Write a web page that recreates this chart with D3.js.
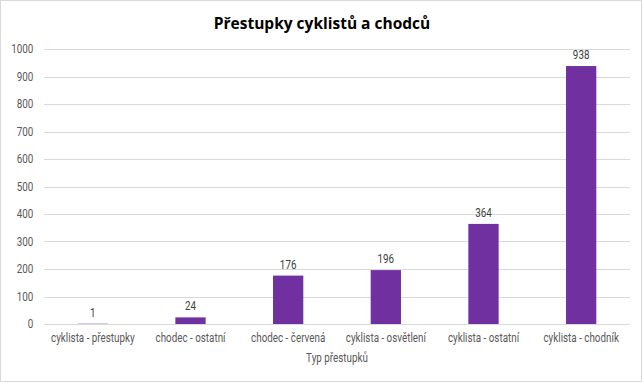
<!DOCTYPE html>
<html>
<head>
<meta charset="utf-8">
<script src="https://cdn.jsdelivr.net/npm/d3@7"></script>
<style>
  body { margin: 0; background: #fff; }
  text { font-family: "Liberation Sans Narrow", "Roboto", sans-serif; }
</style>
</head>
<body>
<svg id="chart" width="644" height="384"></svg>
<script>
/* data */
var categories = ["cyklista - přestupky", "chodec - ostatní", "chodec - červená",
                  "cyklista - osvětlení", "cyklista - ostatní", "cyklista - chodník"];
var values = [1, 24, 176, 196, 364, 938];
var yTicks = [0, 100, 200, 300, 400, 500, 600, 700, 800, 900, 1000];

var svg = d3.select("#chart");
var width = +svg.attr("width");
var height = +svg.attr("height");
var margin = {top: 49, right: 14, bottom: 60, left: 44};
var narrow = "scale(0.82,1)";

// outer frame
svg.append("rect")
    .attr("x", 0.5).attr("y", 0.5)
    .attr("width", width - 3).attr("height", height - 3)
    .attr("fill", "#fff")
    .attr("stroke", "#d9d9d9");

let x = d3.scaleBand()
    .domain(categories)
    .range([margin.left, width - margin.right])
    .paddingInner(0.69)
    .paddingOuter(0.345);

let y = d3.scaleLinear()
    .domain([0, 1000])
    .range([height - margin.bottom, margin.top]);

// gridlines
svg.append("g")
    .selectAll("line")
    .data(yTicks)
    .enter().append("line")
    .attr("x1", margin.left)
    .attr("x2", width - margin.right)
    .attr("y1", d => Math.round(y(d)) + 0.5)
    .attr("y2", d => Math.round(y(d)) + 0.5)
    .attr("stroke", "#d9d9d9");

// y axis labels
let yAxis = d3.axisLeft(y).tickValues(yTicks).tickFormat(d3.format("d")).tickSize(0).tickPadding(13);
let gy = svg.append("g")
    .attr("transform", "translate(" + margin.left + ",0)")
    .call(yAxis);
gy.select(".domain").remove();
gy.selectAll("text").attr("fill", "#595959").style("font-size", "12px").attr("transform", narrow);

// x axis
let xAxis = d3.axisBottom(x).tickSize(0).tickPadding(9);
let gx = svg.append("g")
    .attr("transform", "translate(0," + (height - margin.bottom) + ")")
    .call(xAxis);
gx.select(".domain").remove();
gx.selectAll("text").attr("fill", "#595959").style("font-size", "12px").attr("transform", narrow);

// bars
svg.append("g")
    .selectAll("rect")
    .data(values)
    .enter().append("rect")
    .attr("x", (d, i) => x(categories[i]))
    .attr("width", x.bandwidth())
    .attr("y", d => y(d))
    .attr("height", d => y(0) - y(d))
    .attr("fill", "#7030a0");

// data labels
svg.append("g")
    .selectAll("g")
    .data(values)
    .enter().append("g")
    .attr("transform", (d, i) => "translate(" + (x(categories[i]) + x.bandwidth() / 2) + "," + (y(d) - 7) + ")")
    .append("text")
    .attr("text-anchor", "middle")
    .attr("transform", narrow)
    .attr("fill", "#404040")
    .style("font-size", "12px")
    .text(d => d);

// title
svg.append("text")
    .attr("x", width / 2)
    .attr("y", 29)
    .attr("text-anchor", "middle")
    .attr("fill", "#000")
    .style("font-family", "'Open Sans', 'DejaVu Sans', sans-serif")
    .style("font-weight", "bold")
    .style("font-size", "15.5px")
    .text("Přestupky cyklistů a chodců");

// axis title
svg.append("g")
    .attr("transform", "translate(" + ((margin.left + width - margin.right) / 2) + ",362)")
    .append("text")
    .attr("text-anchor", "middle")
    .attr("transform", narrow)
    .attr("fill", "#595959")
    .style("font-size", "12px")
    .text("Typ přestupků");
</script>
</body>
</html>
